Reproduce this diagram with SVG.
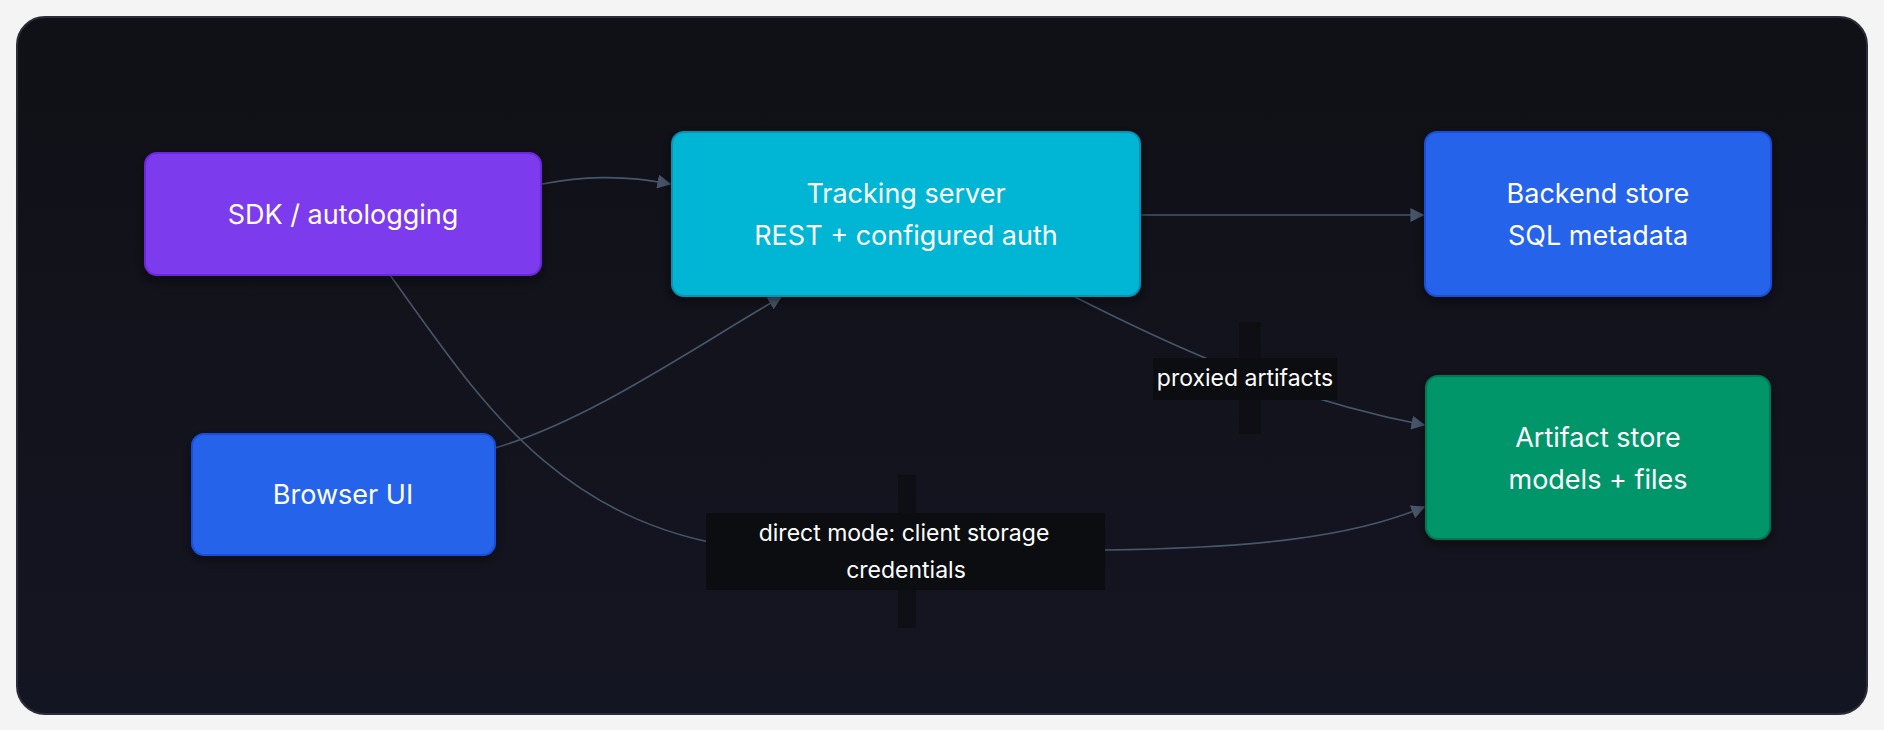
<svg xmlns="http://www.w3.org/2000/svg" width="1884" height="730" viewBox="0 0 1884 730">
<defs>
<linearGradient id="bg" x1="0" y1="0" x2="0" y2="1"><stop offset="0" stop-color="#101116"/><stop offset="1" stop-color="#141522"/></linearGradient>
<marker id="arr" viewBox="0 0 10 10" refX="9" refY="5" markerWidth="14" markerHeight="14" markerUnits="userSpaceOnUse" orient="auto"><path d="M0,0 L10,5 L0,10 z" fill="#475569"/></marker>
<filter id="sh" x="-20%" y="-20%" width="140%" height="140%"><feDropShadow dx="0" dy="4" stdDeviation="6" flood-color="#000" flood-opacity="0.45"/></filter>
<style>
.n{stroke-width:2}
.t{font-family:Inter,"Noto Sans",sans-serif;font-size:27px;fill:#ffffff;text-anchor:middle}
.l{font-family:Inter,"Noto Sans",sans-serif;font-size:23px;fill:#ffffff;text-anchor:middle}
.e{fill:none;stroke:#475569;stroke-width:1.6}
.lb{fill:#0c0d10}
.ls{fill:#0b0c0f;opacity:0.6}
</style>
</defs>
<rect width="1884" height="730" fill="#f4f4f5"/>
<rect x="17" y="17" width="1850" height="697" rx="28" fill="url(#bg)" stroke="#2a2d38" stroke-width="2"/>
<g id="connectors">
<path class="e" d="M542,184 C580,177 620,174 670,184" marker-end="url(#arr)"/>
<path class="e" d="M495,448 C590,420 690,350 781,297" marker-end="url(#arr)"/>
<path class="e" d="M1140,215 L1423,215" marker-end="url(#arr)"/>
<path class="e" d="M1073,296 C1150,335 1270,395 1424,425" marker-end="url(#arr)"/>
<path class="e" d="M390,275 C480,400 560,530 760,550 L1105,550 C1250,548 1350,538 1424,507" marker-end="url(#arr)"/>
<rect class="ls" x="1239" y="322" width="22" height="112"/>
<rect class="lb" x="1153" y="358" width="184" height="42"/>
<rect class="ls" x="898" y="475" width="18" height="153"/>
<rect class="lb" x="706" y="513" width="399" height="77"/>
<text class="l" x="1245" y="386">proxied artifacts</text>
<text class="l" x="904" y="541">direct mode: client storage</text>
<text class="l" x="906" y="578">credentials</text>
</g>
<g id="sdk"><rect class="n" x="145" y="153" width="396" height="122" rx="12" fill="#7c3aed" stroke="#6d28d9" filter="url(#sh)"/><text class="t" x="343" y="224">SDK / autologging</text></g>
<g id="tracking"><rect class="n" x="672" y="132" width="468" height="164" rx="12" fill="#06b6d4" stroke="#0891b2" filter="url(#sh)"/><text class="t" x="906" y="203">Tracking server</text><text class="t" x="906" y="245">REST + configured auth</text></g>
<g id="backend"><rect class="n" x="1425" y="132" width="346" height="164" rx="12" fill="#2563eb" stroke="#1d4ed8" filter="url(#sh)"/><text class="t" x="1598" y="203">Backend store</text><text class="t" x="1598" y="245">SQL metadata</text></g>
<g id="browser"><rect class="n" x="192" y="434" width="303" height="121" rx="12" fill="#2563eb" stroke="#1d4ed8" filter="url(#sh)"/><text class="t" x="343" y="504">Browser UI</text></g>
<g id="artifact"><rect class="n" x="1426" y="376" width="344" height="163" rx="12" fill="#059669" stroke="#047857" filter="url(#sh)"/><text class="t" x="1598" y="447">Artifact store</text><text class="t" x="1598" y="489">models + files</text></g>
</svg>
